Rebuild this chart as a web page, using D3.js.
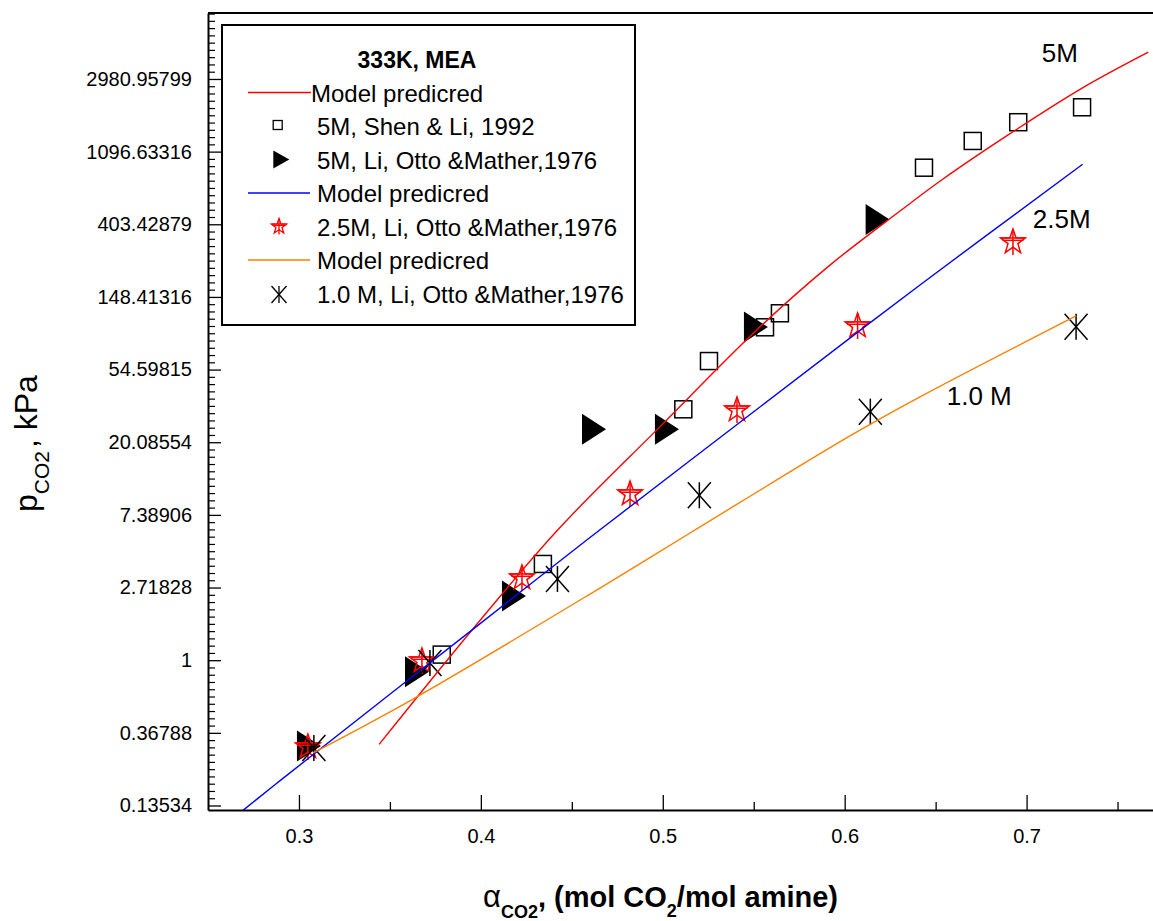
<!DOCTYPE html>
<html>
<head>
<meta charset="utf-8">
<script src="https://cdn.jsdelivr.net/npm/d3@7"></script>
<style>
  html, body { margin: 0; padding: 0; background: #fff; }
  svg { display: block; font-family: "Liberation Sans", Arial, sans-serif; }
</style>
</head>
<body>
<svg id="chart" width="1153" height="921"></svg>
<script>
// ---------------- data ----------------
const xTicks = [0.3, 0.4, 0.5, 0.6, 0.7];
const xTickLabels = ["0.3", "0.4", "0.5", "0.6", "0.7"];
const xMinorTicks = [0.35, 0.45, 0.55, 0.65, 0.75];

const yTickExponents = [-2, -1, 0, 1, 2, 3, 4, 5, 6, 7, 8];
const yTickLabels = ["0.13534", "0.36788", "1", "2.71828", "7.38906", "20.08554",
                     "54.59815", "148.41316", "403.42879", "1096.63316", "2980.95799"];

// 5M, Shen & Li, 1992 (squares)
const shenLiX = [0.3785, 0.4341, 0.5113, 0.5254, 0.5562, 0.5644, 0.6436, 0.6704, 0.6954, 0.7305];
const shenLiP = [1.08, 3.76, 31.6, 61.4, 97.7, 118.5, 879, 1270, 1644, 2019];

// 5M, Li, Otto & Mather, 1976 (triangles)
const lom5X = [0.3055, 0.3649, 0.4182, 0.4622, 0.5023, 0.5512, 0.6181];
const lom5P = [0.307, 0.854, 2.42, 24.0, 24.0, 98.1, 431];

// 2.5M, Li, Otto & Mather, 1976 (stars)
const lom25X = [0.3049, 0.3676, 0.4226, 0.4820, 0.5408, 0.6071, 0.6925];
const lom25P = [0.303, 0.989, 3.10, 9.86, 31.3, 99.5, 316];

// 1.0 M, Li, Otto & Mather, 1976 (asterisks)
const lom1X = [0.3082, 0.3720, 0.4421, 0.5201, 0.6141, 0.7272];
const lom1P = [0.299, 0.962, 3.06, 9.68, 30.6, 98.5];

// Model predicted curves
const model5X = [0.3441, 0.3955, 0.4426, 0.4985, 0.5516, 0.5919, 0.6304, 0.6533, 0.6909, 0.7303, 0.7669];
const model5P = [0.314, 1.53, 6.06, 24.9, 94.2, 230, 484, 742, 1404, 2620, 4310];

const model25X = [0.2694, 0.2905, 0.3982, 0.4582, 0.5534, 0.6414, 0.7308];
const model25P = [0.127, 0.194, 1.61, 5.23, 32.6, 175, 921];

const model1X = [0.3077, 0.3627, 0.4655, 0.5150, 0.6029, 0.6414, 0.7272];
const model1P = [0.279, 0.586, 2.70, 5.76, 21.9, 37.5, 114.2];

// curve labels (data coordinates)
const curveLabels = ["5M", "2.5M", "1.0 M"];
const curveLabelX = [0.7083, 0.7034, 0.6561];
const curveLabelP = [3784, 381.6, 33.5];

const legendTitle = "333K, MEA";
const legendLabels = ["Model predicred", "5M, Shen & Li, 1992", "5M, Li, Otto &Mather,1976",
                      "Model predicred", "2.5M, Li, Otto &Mather,1976", "Model predicred",
                      "1.0 M, Li, Otto &Mather,1976"];

// ---------------- layout ----------------
const svg = d3.select("#chart");
const plotLeft = 208, plotRight = 1208.5, plotTop = 13, plotBottom = 810;

const x = d3.scaleLinear().domain([0.25, 0.8]).range([plotLeft, plotRight]);
const y = d3.scaleLog().base(Math.E).domain([Math.exp(-2.062), Math.exp(8.908)]).range([plotBottom, plotTop]);

const zip = (xs, ps) => xs.map((v, i) => ({x: v, p: ps[i]}));

// clip
svg.append("defs").append("clipPath").attr("id", "plotclip")
  .append("rect").attr("x", plotLeft).attr("y", plotTop).attr("width", plotRight - plotLeft).attr("height", plotBottom - plotTop);

// ---------------- axes ----------------
const yMinor = [];
for (let n = -3; n <= 9; n++) for (let k = 1; k <= 9; k++) {
  const e = n + k / 10;
  if (e > -2.062 && e < 8.908) yMinor.push(Math.exp(e));
}

const yAxis = d3.axisLeft(y)
  .tickValues(yTickExponents.map(e => Math.exp(e)))
  .tickFormat((d, i) => yTickLabels[i])
  .tickSizeInner(-13).tickSizeOuter(0).tickPadding(16);
const gy = svg.append("g").attr("transform", `translate(${plotLeft},0)`).call(yAxis);
gy.selectAll("text").attr("font-size", 20).attr("font-family", "Liberation Sans, Arial").attr("fill", "#000");
gy.selectAll("line").attr("stroke", "#000").attr("stroke-width", 1.3);
gy.select(".domain").attr("stroke", "#000").attr("stroke-width", 2);

const yAxisMinor = d3.axisLeft(y).tickValues(yMinor).tickFormat("").tickSizeInner(-7).tickSizeOuter(0);
const gym = svg.append("g").attr("transform", `translate(${plotLeft},0)`).call(yAxisMinor);
gym.select(".domain").remove();
gym.selectAll("line").attr("stroke", "#000").attr("stroke-width", 1.2);

const xAxis = d3.axisBottom(x)
  .tickValues(xTicks)
  .tickFormat((d, i) => xTickLabels[i])
  .tickSizeInner(-15).tickSizeOuter(0).tickPadding(19);
const gx = svg.append("g").attr("transform", `translate(0,${plotBottom})`).call(xAxis);
gx.selectAll("text").attr("font-size", 20).attr("font-family", "Liberation Sans, Arial").attr("fill", "#000");
gx.selectAll("line").attr("stroke", "#000").attr("stroke-width", 1.3);
gx.select(".domain").attr("stroke", "#000").attr("stroke-width", 2);

const xAxisMinor = d3.axisBottom(x).tickValues(xMinorTicks).tickFormat("").tickSizeInner(-8).tickSizeOuter(0);
const gxm = svg.append("g").attr("transform", `translate(0,${plotBottom})`).call(xAxisMinor);
gxm.select(".domain").remove();
gxm.selectAll("line").attr("stroke", "#000").attr("stroke-width", 1.3);

// top frame
svg.append("line").attr("x1", plotLeft).attr("x2", plotRight).attr("y1", plotTop).attr("y2", plotTop)
  .attr("stroke", "#000").attr("stroke-width", 2);

// ---------------- symbols ----------------
function starPath(R, r) {
  let d = "";
  for (let i = 0; i < 10; i++) {
    const rad = i % 2 === 0 ? R : r;
    const a = -Math.PI / 2 + i * Math.PI / 5;
    d += (i === 0 ? "M" : "L") + (rad * Math.cos(a)).toFixed(2) + "," + (rad * Math.sin(a)).toFixed(2);
  }
  return d + "Z";
}
function drawSquare(g, cx, cy, s, sw) {
  g.append("rect").attr("x", cx - s / 2).attr("y", cy - s / 2).attr("width", s).attr("height", s)
    .attr("fill", "none").attr("stroke", "#000").attr("stroke-width", sw);
}
function drawTriangle(g, cx, cy, w, h) {
  g.append("path").attr("transform", `translate(${cx},${cy})`)
    .attr("d", `M${-w / 2},${-h / 2}L${w / 2},0L${-w / 2},${h / 2}Z`).attr("fill", "#000");
}
function drawStar(g, cx, cy, R, sw) {
  const s = g.append("g").attr("transform", `translate(${cx},${cy})`)
    .attr("fill", "none").attr("stroke", "#ff0000").attr("stroke-width", sw);
  s.append("path").attr("d", starPath(R, R * 0.4));
  s.append("line").attr("x1", 0).attr("x2", 0).attr("y1", -R).attr("y2", R);
  const yh = -R * Math.cos(2 * Math.PI / 5), xh = R * Math.sin(2 * Math.PI / 5);
  s.append("line").attr("x1", -xh).attr("x2", xh).attr("y1", yh).attr("y2", yh);
  s.append("line").attr("x1", -xh * 0.85).attr("x2", xh * 0.85).attr("y1", yh + R * 0.18).attr("y2", yh + R * 0.18);
}
function drawAsterisk(g, cx, cy, hw, hh, sw) {
  const s = g.append("g").attr("transform", `translate(${cx},${cy})`)
    .attr("stroke", "#000").attr("stroke-width", sw);
  s.append("line").attr("x1", 0).attr("x2", 0).attr("y1", -hh).attr("y2", hh);
  s.append("line").attr("x1", -hw).attr("x2", hw).attr("y1", -hh).attr("y2", hh);
  s.append("line").attr("x1", -hw).attr("x2", hw).attr("y1", hh).attr("y2", -hh);
}

// ---------------- markers ----------------
const gm = svg.append("g");
zip(shenLiX, shenLiP).forEach(d => drawSquare(gm, x(d.x), y(d.p), 17, 1.5));
zip(lom5X, lom5P).forEach(d => drawTriangle(gm, x(d.x), y(d.p), 24, 31));
zip(lom25X, lom25P).forEach(d => drawStar(gm, x(d.x), y(d.p), 13, 1.5));
zip(lom1X, lom1P).forEach(d => drawAsterisk(gm, x(d.x), y(d.p), 11.5, 13, 1.5));

// ---------------- model lines ----------------
const line = d3.line().x(d => x(d.x)).y(d => y(d.p)).curve(d3.curveCatmullRom.alpha(0.5));
const gl = svg.append("g").attr("clip-path", "url(#plotclip)");
gl.append("path").datum(zip(model5X, model5P)).attr("d", line)
  .attr("fill", "none").attr("stroke", "#ff0000").attr("stroke-width", 1.4);
gl.append("path").datum(zip(model25X, model25P)).attr("d", line)
  .attr("fill", "none").attr("stroke", "#0000ff").attr("stroke-width", 1.4);
gl.append("path").datum(zip(model1X, model1P)).attr("d", line)
  .attr("fill", "none").attr("stroke", "#ff8000").attr("stroke-width", 1.4);

// curve labels
curveLabels.forEach((t, i) => {
  svg.append("text").attr("x", x(curveLabelX[i])).attr("y", y(curveLabelP[i]))
    .attr("font-size", 26).attr("fill", "#000").text(t);
});

// ---------------- axis titles ----------------
const xt = svg.append("text").attr("x", 483).attr("y", 907).attr("font-size", 29).attr("font-weight", "bold").attr("fill", "#000");
xt.append("tspan").attr("font-weight", "normal").attr("font-size", 31).text("α");
xt.append("tspan").attr("font-size", 18).attr("dy", 11).text("CO2");
xt.append("tspan").attr("dy", -11).text(", (mol CO");
xt.append("tspan").attr("font-size", 18).attr("dy", 10).text("2");
xt.append("tspan").attr("dy", -10).text("/mol amine)");

const yt = svg.append("text").attr("transform", "translate(37,512) rotate(-90)")
  .attr("font-size", 32).attr("fill", "#000");
yt.append("tspan").text("p");
yt.append("tspan").attr("font-size", 21).attr("dy", 12).text("CO2");
yt.append("tspan").attr("dy", -12).attr("dx", 3).text(", kPa");

// ---------------- legend ----------------
const lg = svg.append("g");
lg.append("rect").attr("x", 222).attr("y", 25).attr("width", 413).attr("height", 300)
  .attr("fill", "#fff").attr("stroke", "#000").attr("stroke-width", 2);
lg.append("text").attr("x", 417).attr("y", 68).attr("text-anchor", "middle")
  .attr("font-size", 23).attr("font-weight", "bold").text(legendTitle);
const baselines = [101.5, 135, 168.5, 202, 235.5, 269, 302.5];
const lineColors = {0: "#ff0000", 3: "#0000ff", 5: "#ff8000"};
legendLabels.forEach((t, i) => {
  const by = baselines[i], my = by - 9;
  const tx = i === 0 ? 311 : 317;
  if (i in lineColors) {
    lg.append("line").attr("x1", 248).attr("x2", i === 0 ? 311 : 310).attr("y1", my).attr("y2", my)
      .attr("stroke", lineColors[i]).attr("stroke-width", 1.4);
  } else if (i === 1) drawSquare(lg, 277.7, my - 1, 9, 1.3);
  else if (i === 2) drawTriangle(lg, 281.3, my, 16, 18);
  else if (i === 4) drawStar(lg, 279, my, 8, 1.3);
  else if (i === 6) drawAsterisk(lg, 279, my + 1, 7.5, 8.5, 1.3);
  lg.append("text").attr("x", tx).attr("y", by).attr("font-size", 24).attr("fill", "#000").text(t);
});
</script>
</body>
</html>
